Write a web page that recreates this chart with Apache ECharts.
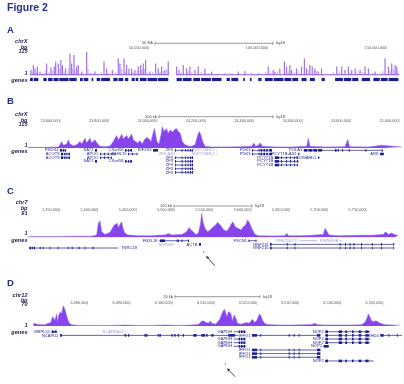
<!DOCTYPE html>
<html><head><meta charset="utf-8">
<script src="https://cdn.jsdelivr.net/npm/echarts@6/dist/echarts.min.js"></script>
<style>html,body{margin:0;padding:0;background:#fff}#c{width:404px;height:384px}</style>
</head><body><div id="c"></div>
<script>
// ---------------- DATA (genomic positions in Mb, signal in read depth) ----------------
const aLength = 155.27;
const aCentromere = [58.4, 61.3];
const aTicks = [50, 100, 150];
const bTicks = [23.6, 23.8, 24.0, 24.2, 24.4, 24.6, 24.8, 25.0];
const cTicks = [5.35, 5.40, 5.45, 5.50, 5.55, 5.60, 5.65, 5.70, 5.75];
const dTicks = [6.48, 6.49, 6.50, 6.51, 6.52, 6.53, 6.54, 6.55];
const yMaxes = [115, 115, 91, 70];
const chroms = ['chrX', 'chrX', 'chr7', 'chr12'];
const scaleTexts = ['50 Mb', '500 kb', '100 kb', '20 kb'];

const aPeaks = [[0.4,25],[1.4,50],[2.1,33],[3.1,42],[4.2,17],[7.0,58],[8.8,37],[10.2,42],[10.8,67],[11.9,58],[13.0,75],[13.6,50],[15.0,33],[16.8,108],[17.5,58],[18.5,100],[19.6,42],[20.3,50],[21.7,17],[23.8,115],[25.2,8],[27.3,17],[31.1,67],[32.2,33],[34.6,25],[37.1,83],[37.8,58],[39.5,83],[40.6,50],[41.6,33],[42.7,33],[44.1,25],[45.5,42],[46.5,50],[47.6,58],[48.6,75],[50.4,17],[52.8,58],[53.9,33],[55.3,42],[56.7,25],[58.1,67],[61.6,42],[62.6,25],[64.4,50],[65.8,33],[67.2,42],[69.3,25],[70.7,42],[73.5,33],[76.3,17],[81.9,8],[87.5,17],[90.3,20],[93.1,8],[95.9,8],[100.1,42],[102.2,25],[102.9,17],[105.0,33],[106.9,67],[107.8,42],[109.2,50],[109.9,25],[112.0,33],[114.1,42],[115.3,83],[116.2,33],[117.6,50],[118.6,42],[119.7,33],[121.1,17],[122.5,33],[128.9,42],[131.0,42],[132.4,25],[133.8,42],[135.2,25],[136.6,33],[138.7,25],[140.8,42],[142.2,33],[145.0,17],[149.2,83],[150.6,42],[152.0,58],[153.4,50],[154.1,42]];
const aMinor = [[1.0,12],[2.6,18],[5.5,10],[6.4,20],[8.0,15],[9.5,22],[12.4,30],[14.3,20],[16.2,35],[18.0,30],[19.0,22],[22.5,12],[24.4,30],[26.0,10],[28.5,8],[30.0,14],[33.0,12],[36.0,14],[38.5,30],[40.0,20],[43.3,15],[45.0,20],[47.0,28],[48.0,30],[49.5,12],[51.5,15],[54.6,18],[56.0,20],[57.5,30],[63.5,15],[66.5,20],[68.0,12],[72.0,15],[75.0,10],[79.0,8],[84.0,10],[99.0,15],[101.0,20],[104.0,18],[108.5,20],[111.0,15],[113.0,22],[116.9,25],[120.4,20],[127.5,15],[130.0,18],[134.5,14],[137.5,18],[139.8,15],[144.0,10],[147.5,12],[148.3,20],[151.3,25],[152.7,30],[154.6,20]];
const aGeneBlocks = [[0,1.2],[1.6,3.5],[5.6,7.0],[7.6,9.5],[9.9,12.0],[12.3,16.2],[16.5,19.6],[21.0,22.2],[22.6,24.5],[25.9,26.6],[28.0,29.5],[29.9,33.6],[35.0,36.8],[37.2,39.2],[39.9,41.3],[42.7,44.0],[44.4,45.5],[46.2,49.0],[49.4,53.5],[53.8,58.1],[61.6,63.8],[64.2,67.9],[68.6,71.5],[71.9,76.0],[76.4,80.5],[82.6,84.0],[84.6,87.5],[89.6,90.3],[92.4,93.1],[95.9,97.3],[98.7,102.0],[102.4,106.5],[106.9,109.8],[110.2,112.7],[114.1,116.2],[117.6,119.7],[122.5,123.9],[128.2,131.5],[131.9,135.0],[135.4,138.0],[139.4,142.9],[144.3,147.0],[147.4,150.3],[150.7,154.8]];

const bSignal = [[23.4668,3],[23.5356,3],[23.5907,5],[23.5976,16],[23.6045,31],[23.6114,13],[23.6251,19],[23.6320,39],[23.6389,19],[23.6527,11],[23.6664,16],[23.6802,31],[23.6871,19],[23.7009,47],[23.7077,24],[23.7215,47],[23.7284,24],[23.7422,39],[23.7532,19],[23.7628,8],[23.7835,6],[23.8041,9],[23.8179,31],[23.8248,47],[23.8317,60],[23.8386,39],[23.8454,50],[23.8523,66],[23.8592,44],[23.8661,39],[23.8730,60],[23.8799,44],[23.8868,47],[23.8936,66],[23.9005,39],[23.9074,31],[23.9184,24],[23.9281,35],[23.9377,19],[23.9460,39],[23.9556,50],[23.9652,44],[23.9735,31],[23.9804,24],[23.9873,94],[23.9928,102],[23.9983,31],[24.0066,19],[24.0148,63],[24.0203,102],[24.0286,79],[24.0369,94],[24.0451,71],[24.0534,87],[24.0617,76],[24.0699,87],[24.0782,94],[24.0864,79],[24.0947,71],[24.1029,31],[24.1140,16],[24.1277,9],[24.1415,8],[24.1553,16],[24.1649,55],[24.1718,79],[24.1787,66],[24.1869,31],[24.1966,8],[24.2241,5],[24.2792,5],[24.3343,6],[24.3894,8],[24.3976,24],[24.4059,8],[24.4169,13],[24.4252,25],[24.4334,8],[24.4858,5],[24.5546,5],[24.6166,8],[24.6235,47],[24.6303,8],[24.6923,5],[24.7749,6],[24.7859,41],[24.7942,6],[24.8713,5],[24.9264,13],[24.9333,6],[25.0090,5]];

const cSignal = [[5.3087,3],[5.3478,3],[5.3674,4],[5.3696,9],[5.3717,4],[5.3913,4],[5.3978,9],[5.4000,53],[5.4022,62],[5.4044,21],[5.4087,11],[5.4152,19],[5.4183,34],[5.4209,47],[5.4226,40],[5.4244,53],[5.4261,37],[5.4283,49],[5.4305,59],[5.4322,34],[5.4348,15],[5.4392,9],[5.4522,6],[5.4696,6],[5.4783,8],[5.4870,9],[5.4914,14],[5.4957,9],[5.5088,11],[5.5153,21],[5.5183,37],[5.5209,28],[5.5240,21],[5.5270,11],[5.5305,15],[5.5331,47],[5.5349,91],[5.5366,59],[5.5392,34],[5.5427,21],[5.5457,28],[5.5501,40],[5.5531,47],[5.5557,57],[5.5583,59],[5.5610,40],[5.5636,28],[5.5675,24],[5.5705,34],[5.5731,49],[5.5757,59],[5.5775,47],[5.5797,37],[5.5827,34],[5.5862,28],[5.5892,40],[5.5923,47],[5.5949,66],[5.5975,53],[5.6001,34],[5.6045,11],[5.6088,6],[5.6262,5],[5.6436,6],[5.6458,15],[5.6480,6],[5.6654,6],[5.6784,8],[5.6936,11],[5.6958,34],[5.6980,24],[5.7010,9],[5.7132,6],[5.7393,8],[5.7567,8],[5.7719,11],[5.7750,21],[5.7785,11],[5.7828,16],[5.7863,11],[5.7915,6]];

const dSignal = [[6.4670,9],[6.4673,5],[6.4681,5],[6.4689,4],[6.4697,4],[6.4705,9],[6.4711,11],[6.4715,30],[6.4718,36],[6.4721,19],[6.4725,39],[6.4727,14],[6.4730,36],[6.4734,46],[6.4737,39],[6.4739,57],[6.4741,65],[6.4745,52],[6.4748,36],[6.4751,22],[6.4754,11],[6.4760,4],[6.4776,2],[6.4808,2],[6.4855,2],[6.4887,3],[6.4919,2],[6.4950,2],[6.4982,3],[6.5014,2],[6.5045,3],[6.5061,5],[6.5067,13],[6.5072,17],[6.5075,22],[6.5080,11],[6.5085,9],[6.5089,16],[6.5093,9],[6.5097,13],[6.5102,6],[6.5107,14],[6.5112,22],[6.5116,36],[6.5119,46],[6.5123,54],[6.5126,60],[6.5129,30],[6.5132,46],[6.5135,52],[6.5138,41],[6.5142,17],[6.5146,36],[6.5150,25],[6.5154,9],[6.5161,6],[6.5165,5],[6.5170,9],[6.5175,11],[6.5181,9],[6.5186,15],[6.5189,22],[6.5192,17],[6.5195,11],[6.5200,19],[6.5203,30],[6.5206,39],[6.5210,32],[6.5213,19],[6.5218,9],[6.5224,5],[6.5235,4],[6.5251,3],[6.5282,3],[6.5314,4],[6.5330,5],[6.5338,9],[6.5343,4],[6.5361,3],[6.5393,3],[6.5425,3],[6.5448,4],[6.5456,11],[6.5461,25],[6.5464,39],[6.5467,32],[6.5472,17],[6.5477,14],[6.5482,17],[6.5486,12],[6.5493,9],[6.5504,4],[6.5520,3],[6.5539,3]];

// genes: [name, row, start, end, exons, type]  type 0 = coding, 1 = non-coding (grey), 2 = label on the right, 3 = no label
const zfxEx = [[24.0728,24.0740],[24.1000,24.1010],[24.1150,24.1160],[24.1250,24.1260],[24.1350,24.1360],[24.1420,24.1472]];
const pdk3Ex = [[24.3910,24.3925],[24.4180,24.4200],[24.4260,24.4330],[24.4380,24.4450],[24.4500,24.4560],[24.4620,24.4737]];
const pcytEx = [[24.4848,24.5025],[24.5105,24.5115],[24.5310,24.5320],[24.5478,24.5488],[24.5640,24.5650],[24.5762,24.5770]];
const bGenes = [
 ['PRDX4',0,23.5976,23.6224,[[23.5976,23.6060],[23.6100,23.6140],[23.6170,23.6224]],0],
 ['SAT1',0,23.7423,23.7505,[[23.7423,23.7505]],0],
 ['CXorf58',0,23.8662,23.8951,[[23.8662,23.8720],[23.8790,23.8830],[23.8880,23.8951]],0],
 ['EIF2S3',0,23.9819,24.0026,[[23.9819,24.0026]],0],
 ['ZFX',0,24.0728,24.1472,zfxEx,0],
 ['SUPT20HL1',0,24.2423,24.2464,[],1],
 ['PDK3',0,24.3910,24.4737,pdk3Ex,0],
 ['POLA1',0,24.6046,24.9282,[[24.6046,24.6200],[24.6240,24.6400],[24.6440,24.6600],[24.6640,24.6803],[24.7340,24.7400],[24.7450,24.7493],[24.7629,24.7640],[24.7906,24.7916],[24.8592,24.8602],[24.9272,24.9282]],0],
 ['ACOT9',1,23.6018,23.6390,[[23.6018,23.6100],[23.6150,23.6200],[23.6240,23.6280],[23.6330,23.6390]],0],
 ['APOO',1,23.7629,23.8249,[[23.7629,23.7640],[23.7800,23.7810],[23.7950,23.7960],[23.8100,23.8110],[23.8235,23.8249]],0],
 ['KLHL15',1,23.8786,23.9158,[[23.8786,23.8800],[23.8950,23.8960],[23.9140,23.9158]],0],
 ['ZFX-AS1',1,24.0810,24.0840,[],1],
 ['SUPT20HL2',1,24.2423,24.2464,[],1],
 ['PDK3',1,24.3910,24.4737,pdk3Ex,0],
 ['PCYT1B-AS1',1,24.5811,24.5894,[[24.5811,24.5820]],0],
 ['ARX',1,24.9199,24.9352,[[24.9199,24.9352]],0],
 ['ACOT9',2,23.6018,23.6390,[[23.6018,23.6100],[23.6150,23.6200],[23.6240,23.6280],[23.6330,23.6390]],0],
 ['APOO',2,23.7629,23.8100,[[23.7629,23.7640],[23.7800,23.7810],[23.7950,23.7960],[23.8090,23.8100]],0],
 ['ZFX',2,24.0728,24.1472,zfxEx,0],
 ['PCYT1B',2,24.4848,24.5770,pcytEx,0],
 ['SOWAHD1',2,24.6637,24.6720,[[24.6637,24.6650]],0],
 ['SAT1',3,23.7423,23.7505,[[23.7423,23.7505]],0],
 ['CXorf58',3,23.8662,23.8951,[[23.8662,23.8720],[23.8790,23.8830],[23.8880,23.8951]],0],
 ['ZFX',3,24.0728,24.1472,zfxEx,0],
 ['PCYT1B',3,24.4848,24.5850,pcytEx,0],
 ['ZFX',4,24.0728,24.1472,zfxEx,0],
 ['PCYT1B',4,24.4848,24.5770,pcytEx,0],
 ['ZFX',5,24.0728,24.1472,zfxEx,0],
 ['ZFX',6,24.0728,24.1472,zfxEx,0]
];

const rnfEx = [[5.6240,5.6262],[5.6460,5.6466],[5.6561,5.6567],[5.7150,5.7160],[5.7220,5.7227],[5.7279,5.7285],[5.7331,5.7337],[5.7430,5.7442],[5.7570,5.7576],[5.7691,5.7697],[5.7850,5.7856]];
const cGenes = [
 ['FBXL18',0,5.4792,5.5183,[[5.4805,5.4870],[5.5022,5.5030],[5.5040,5.5046],[5.5086,5.5092],[5.5170,5.5183]],0],
 ['FSCN1',0,5.5960,5.6062,[[5.5960,5.5972],[5.6052,5.6062]],0],
 ['RNF216-IT1',0,5.6632,5.6854,[],1],
 ['RSPH10B',0,5.7154,5.7176,[],1],
 ['MIR589',1,5.5000,5.5003,[],1],
 ['ACTB',1,5.5314,5.5340,[[5.5314,5.5340]],0],
 ['RNF216',1,5.6240,5.7856,rnfEx,0],
 ['TNRC18',2,5.3100,5.4257,[[5.3100,5.3125],[5.3135,5.3150],[5.3160,5.3175],[5.3235,5.3245],[5.3275,5.3285],[5.3365,5.3375],[5.3470,5.3480],[5.3600,5.3612],[5.3652,5.3665],[5.3740,5.3755],[5.3822,5.3832],[5.3925,5.3940]],2],
 ['RNF216',2,5.6240,5.7856,rnfEx,0]
];

const gapdhEx = [[6.51567,6.51600],[6.51620,6.51660],[6.51680,6.51725]];
const nop2Ex = [[6.53623,6.53686],[6.53939,6.54018],[6.54097,6.54137],[6.54255,6.54295],[6.54413,6.54476],[6.54571,6.54650]];
const iffoEx = [[6.51883,6.52002],[6.52081,6.52093],[6.52753,6.52765],[6.52871,6.52883],[6.52990,6.53002],[6.53425,6.53504]];
const dGenes = [
 ['MRPL51',0,6.4713,6.4725,[[6.4713,6.4718],[6.4720,6.4725]],0],
 ['SCARNA11',0,6.4888,6.4891,[],1],
 ['GAPDH',0,6.51448,6.51725,gapdhEx,0],
 ['NOP2',0,6.53623,6.54690,nop2Ex,0],
 ['NCAPD2',1,6.4733,6.5156,[[6.4733,6.4737],[6.4886,6.4890],[6.4894,6.4897],[6.4933,6.4936],[6.4937,6.4940],[6.4965,6.4968],[6.4969,6.4972],[6.4997,6.5000],[6.5004,6.5007],[6.5012,6.5015],[6.5024,6.5027],[6.5049,6.5057],[6.5068,6.5077],[6.5080,6.5083],[6.5092,6.5097],[6.5132,6.5148]],0],
 ['IFFO1',1,6.51883,6.53504,iffoEx,0],
 ['NOP2',1,6.53623,6.54690,nop2Ex,3],
 ['CHD4',1,6.54928,6.55442,[[6.54928,6.55007],[6.55120,6.55132],[6.55318,6.55330]],0],
 ['GAPDH',2,6.51448,6.51725,gapdhEx,0],
 ['NOP2',2,6.53623,6.54690,nop2Ex,0],
 ['GAPDH',3,6.51448,6.51725,gapdhEx,0],
 ['NOP2',3,6.53623,6.54690,nop2Ex,0],
 ['GAPDH',4,6.51448,6.51725,gapdhEx,0],
 ['NOP2',4,6.53583,6.53702,[[6.53583,6.53702]],0],
 ['IFFO1',5,6.51883,6.53504,iffoEx,0],
 ['IFFO1',6,6.51883,6.53504,iffoEx,0],
 ['IFFO1',7,6.51883,6.53504,iffoEx,0],
 ['NOP2',8,6.53623,6.54770,nop2Ex,0]
];

// ---------------- LAYOUT ----------------
const FONT = '"Liberation Sans", Arial, sans-serif';
const NAVY = '#1e1e92';
const GREY = '#9a9ad2';
const panels = [
 {sig:{left:30, top:52, width:369.5, height:23}, gene:{top:78, height:3}, rows:1, x:[0,aLength], ticks:aTicks, tickGap:3.7},
 {sig:{left:28, top:124, width:374, height:24}, gene:{top:148.5, height:25.7}, rows:7, x:[23.4654,25.0104], ticks:bTicks, tickGap:3},
 {sig:{left:28.3, top:213.3, width:370, height:24}, gene:{top:238.9, height:10.95}, rows:3, x:[5.3086,5.7915], ticks:cTicks, tickGap:3.5},
 {sig:{left:33.3, top:304.3, width:366.7, height:21.7}, gene:{top:329.9, height:32.85}, rows:9, x:[6.46695,6.55394], ticks:dTicks, tickGap:1.8}
];
const fmt = v => Math.round(v * 1e6).toString().replace(/\B(?=(\d{3})+(?!\d))/g, ',') + '|';

const grids = [], xAxes = [], yAxes = [];
panels.forEach((p, i) => {
  grids.push({left:p.sig.left, top:p.sig.top, width:p.sig.width, height:p.sig.height});
  grids.push({left:p.sig.left, top:p.gene.top, width:p.sig.width, height:p.gene.height});
  xAxes.push({gridIndex:2*i, type:'value', position:'top', min:p.x[0], max:p.x[1],
    axisLine:{show:false}, axisTick:{show:false}, splitLine:{show:false},
    axisLabel:{customValues:p.ticks, formatter:fmt, fontSize:3.8, color:'#5a5a5a', fontFamily:FONT,
      align:'right', verticalAlign:'middle', margin:p.tickGap, hideOverlap:false}});
  xAxes.push({gridIndex:2*i+1, type:'value', min:p.x[0], max:p.x[1], show:false});
  yAxes.push({gridIndex:2*i, type:'value', min:0, max:yMaxes[i], show:false});
  yAxes.push({gridIndex:2*i+1, type:'value', min:-0.5, max:p.rows-0.5, inverse:true, show:false});
});

function txt(text, x, y, font, fill, align) {
  return {type:'text', x:x, y:y, silent:true,
    style:{text:text, font:font, fill:fill, align:align||'left', verticalAlign:'middle',
      textAlign:align||'left', textVerticalAlign:'middle'}};
}

function geneRender(genes) {
  return function (params, api) {
    const g = genes[params.dataIndex];
    const row = g[1], type = g[5];
    const col = type === 1 ? GREY : NAVY;
    const p0 = api.coord([g[2], row]), p1 = api.coord([g[3], row]);
    const ch = [{type:'line', shape:{x1:p0[0], y1:p0[1], x2:p1[0], y2:p1[1]}, style:{stroke:col, lineWidth:0.7}}];
    (g[4] || []).forEach(ex => {
      const a = api.coord([ex[0], row]), b = api.coord([ex[1], row]);
      ch.push({type:'rect', shape:{x:a[0], y:a[1]-1.3, width:Math.max(0.9, b[0]-a[0]), height:2.6}, style:{fill:col}});
    });
    if (type !== 3) {
      const right = type === 2;
      ch.push({type:'text', x: right ? p1[0]+3 : p0[0]-1.5, y: p0[1],
        style:{text:g[0], font:'4.1px ' + FONT, fill:col, align: right?'left':'right', verticalAlign:'middle',
          textAlign: right?'left':'right', textVerticalAlign:'middle'}});
    }
    return {type:'group', children:ch};
  };
}
function blockRender(params, api) {
  const a = api.coord([api.value(0), 0]), b = api.coord([api.value(1), 0]);
  return {type:'rect', shape:{x:a[0], y:a[1]-1.6, width:Math.max(0.8, b[0]-a[0]), height:3.2}, style:{fill:'#1c1c8f'}};
}

const sigLine = {color:'#a070f2', width:0.6};
const sigArea = {color:'#8744ec', opacity:1};
const series = [
  {type:'bar', xAxisIndex:0, yAxisIndex:0, data:aMinor, barWidth:1.3, itemStyle:{color:'#d2c0f4'}, silent:true},
  {type:'bar', xAxisIndex:0, yAxisIndex:0, data:aPeaks, barWidth:1.2, barGap:'-100%', itemStyle:{color:'#a070ea'}, silent:true},
  {type:'line', xAxisIndex:0, yAxisIndex:0, symbol:'none', silent:true, lineStyle:{color:'#8c5ae8', width:1.2},
    data:[[0,0.8],[aCentromere[0],0.8],[(aCentromere[0]+aCentromere[1])/2,'-'],[aCentromere[1],0.8],[aLength,0.8]]},
  {type:'custom', xAxisIndex:1, yAxisIndex:1, clip:false, silent:true, data:aGeneBlocks.map(b => [b[0], b[1], 0]), renderItem:blockRender},
  {type:'line', xAxisIndex:2, yAxisIndex:2, data:bSignal, symbol:'none', silent:true, lineStyle:sigLine, areaStyle:sigArea},
  {type:'custom', xAxisIndex:3, yAxisIndex:3, clip:false, silent:true, data:bGenes.map(g => [g[2], g[3], g[1]]), renderItem:geneRender(bGenes)},
  {type:'line', xAxisIndex:4, yAxisIndex:4, data:cSignal, symbol:'none', silent:true, lineStyle:sigLine, areaStyle:sigArea},
  {type:'custom', xAxisIndex:5, yAxisIndex:5, clip:false, silent:true, data:cGenes.map(g => [g[2], g[3], g[1]]), renderItem:geneRender(cGenes)},
  {type:'line', xAxisIndex:6, yAxisIndex:6, data:dSignal, symbol:'none', silent:true, lineStyle:sigLine, areaStyle:sigArea},
  {type:'custom', xAxisIndex:7, yAxisIndex:7, clip:false, silent:true, data:dGenes.map(g => [g[2], g[3], g[1]]), renderItem:geneRender(dGenes)}
];

// ---------------- TEXT / DECORATION ----------------
const G = [];
const LBL = 'italic bold 5.6px ' + FONT;
const LC = '#1c1c4e';
G.push(txt('Figure 2', 7, 7.8, 'bold 10.5px ' + FONT, '#26318c'));
const letters = ['A','B','C','D'];
const letterY = [30, 101.5, 191.5, 283.5];
const leftY = [
  [41.7, 47.7, 51.7, 73.8, 80],
  [114.3, 120, 124, 145.7, 151.7],
  [202.3, 208.3, 213.3, 233.6, 240.7],
  [295, 300, 304.3, 325.7, 332.3]
];
const scaleY = [43.3, 116.7, 206, 296.7];
const scaleX = [[155, 273], [159, 273], [174, 252], [175, 260]];
letters.forEach((L, i) => {
  G.push(txt(L, 7, letterY[i], 'bold 9.5px ' + FONT, '#1f2d88'));
  const ly = leftY[i];
  G.push(txt(chroms[i], 27.5, ly[0], LBL, LC, 'right'));
  G.push(txt('bp', 27.5, ly[1], LBL, LC, 'right'));
  G.push(txt(String(yMaxes[i]), 27.5, ly[2], LBL, LC, 'right'));
  G.push(txt('1', 27.5, ly[3], LBL, LC, 'right'));
  G.push(txt('genes', 27.5, ly[4], LBL, LC, 'right'));
  const sy = scaleY[i], sx = scaleX[i];
  G.push(txt(scaleTexts[i], sx[0]-2, sy, '4px ' + FONT, '#444', 'right'));
  G.push(txt('hg18', sx[1]+3, sy, '4px ' + FONT, '#444', 'left'));
  G.push({type:'line', silent:true, shape:{x1:sx[0], y1:sy, x2:sx[1], y2:sy}, style:{stroke:'#808080', lineWidth:0.8}});
  G.push({type:'line', silent:true, shape:{x1:sx[0], y1:sy-1.6, x2:sx[0], y2:sy+1.6}, style:{stroke:'#808080', lineWidth:0.8}});
  G.push({type:'line', silent:true, shape:{x1:sx[1], y1:sy-1.6, x2:sx[1], y2:sy+1.6}, style:{stroke:'#808080', lineWidth:0.8}});
});
function arrow(hx, hy, tx, ty) {
  const dx = hx - tx, dy = hy - ty, L = Math.sqrt(dx*dx + dy*dy), ux = dx / L, uy = dy / L;
  const bx = hx - ux * 3.2, by = hy - uy * 3.2, px = -uy * 1.5, py = ux * 1.5;
  G.push({type:'line', silent:true, shape:{x1:tx, y1:ty, x2:bx, y2:by}, style:{stroke:'#333', lineWidth:0.9}});
  G.push({type:'polygon', silent:true, shape:{points:[[hx,hy],[bx+px,by+py],[bx-px,by-py]]}, style:{fill:'#333'}});
}
arrow(206, 255.7, 214.7, 265.7);
arrow(227, 368.3, 235.3, 376.7);
G.push({type:'line', silent:true, shape:{x1:203.7, y1:250.8, x2:203.7, y2:253}, style:{stroke:'#555', lineWidth:0.6}});
G.push({type:'line', silent:true, shape:{x1:225.3, y1:363.2, x2:225.3, y2:365.4}, style:{stroke:'#555', lineWidth:0.6}});

const chart = echarts.init(document.getElementById('c'), null, {renderer:'canvas', width:404, height:384});
chart.setOption({
  animation:false,
  backgroundColor:'#ffffff',
  grid:grids, xAxis:xAxes, yAxis:yAxes, series:series, graphic:G
});
</script></body></html>
